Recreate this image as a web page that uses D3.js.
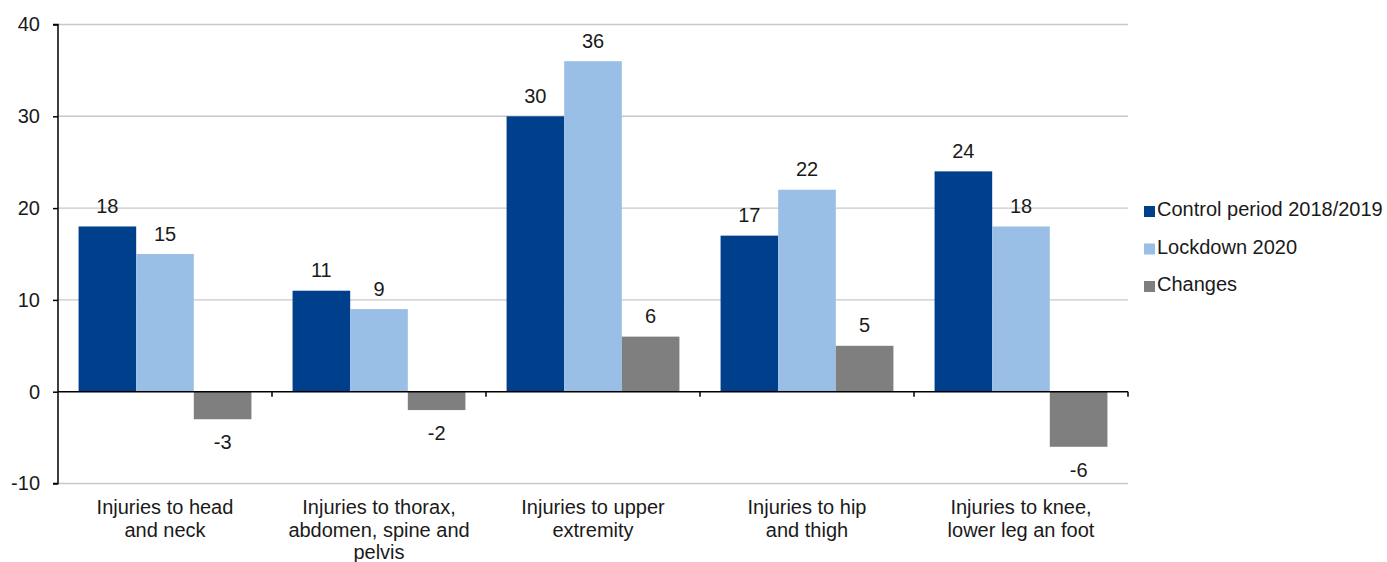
<!DOCTYPE html>
<html>
<head>
<meta charset="utf-8">
<script src="https://cdn.jsdelivr.net/npm/d3@7"></script>
<style>
  html, body { margin: 0; padding: 0; background: #fff; }
  svg text { font-family: "Liberation Sans", Arial, Helvetica, sans-serif; fill: #1a1a1a; }
</style>
</head>
<body>
<svg id="chart" width="1387" height="562"></svg>
<script>
const categories = [
  "Injuries to head\nand neck",
  "Injuries to thorax,\nabdomen, spine and\npelvis",
  "Injuries to upper\nextremity",
  "Injuries to hip\nand thigh",
  "Injuries to knee,\nlower leg an foot"
];
const seriesNames = ["Control period 2018/2019", "Lockdown 2020", "Changes"];
const control = [18, 11, 30, 17, 24];
const lockdown = [15, 9, 36, 22, 18];
const changes = [-3, -2, 6, 5, -6];
const yTicks = [-10, 0, 10, 20, 30, 40];
const colors = ["#003f8c", "#99bfe6", "#7f7f7f"];

const seriesValues = [control, lockdown, changes];
const svg = d3.select("#chart");
const fontSize = 20;

const x = d3.scaleBand().domain(categories).range([58, 1128]).padding(0);
const xs = d3.scaleBand().domain(seriesNames).range([0, x.bandwidth()]).paddingInner(0).paddingOuter(0.357);
const y = d3.scaleLinear().domain([-10, 40]).range([483.5, 24.5]);

// gridlines
svg.append("g").selectAll("line").data(yTicks.filter(d => d !== 0)).join("line")
  .attr("x1", 58).attr("x2", 1128)
  .attr("y1", d => y(d)).attr("y2", d => y(d))
  .attr("stroke", "#c8c8c8").attr("stroke-width", 1.4);

// bars
const rows = [];
categories.forEach((c, i) => seriesNames.forEach((s, j) => rows.push({c, s, j, v: seriesValues[j][i]})));

svg.append("g").selectAll("rect").data(rows).join("rect")
  .attr("x", d => x(d.c) + xs(d.s))
  .attr("width", xs.bandwidth())
  .attr("y", d => y(Math.max(0, d.v)))
  .attr("height", d => Math.abs(y(d.v) - y(0)))
  .attr("fill", d => colors[d.j]);

// value labels
svg.append("g").selectAll("text").data(rows).join("text")
  .attr("x", d => x(d.c) + xs(d.s) + xs.bandwidth() / 2)
  .attr("y", d => d.v >= 0 ? y(d.v) - 13.5 : y(d.v) + 30)
  .attr("text-anchor", "middle")
  .style("font-size", fontSize + "px")
  .text(d => String(d.v));

// zero line
svg.append("line")
  .attr("x1", 58).attr("x2", 1128)
  .attr("y1", y(0)).attr("y2", y(0))
  .attr("stroke", "#000").attr("stroke-width", 1.5);

// category ticks
svg.append("g").selectAll("line").data(categories).join("line")
  .attr("x1", d => x(d) + x.bandwidth()).attr("x2", d => x(d) + x.bandwidth())
  .attr("y1", y(0)).attr("y2", y(0) + 5)
  .attr("stroke", "#000").attr("stroke-width", 1.5);

// y axis
const yAxis = svg.append("g").attr("transform", "translate(58,0)")
  .call(d3.axisLeft(y).tickValues(yTicks).tickSize(5).tickPadding(13).tickFormat(d => String(d)));
yAxis.select(".domain").attr("stroke", "#000").attr("stroke-width", 1.5).attr("d", `M-5,${y(40)}H0V${y(-10)}H-5`);
yAxis.selectAll(".tick line").attr("stroke", "#000").attr("stroke-width", 1.5);
yAxis.selectAll(".tick text").style("font-size", fontSize + "px").attr("fill", "#1a1a1a")
  .style("font-family", '"Liberation Sans", Arial, sans-serif');

// category labels
const catG = svg.append("g");
categories.forEach(c => {
  const t = catG.append("text")
    .attr("x", x(c) + x.bandwidth() / 2)
    .attr("y", 514)
    .attr("text-anchor", "middle")
    .style("font-size", fontSize + "px");
  c.split("\n").forEach((line, k) => {
    t.append("tspan").attr("x", x(c) + x.bandwidth() / 2).attr("y", 514 + k * 22.5).text(line);
  });
});

// legend
const leg = svg.append("g");
seriesNames.forEach((s, j) => {
  const yy = 216 + j * 37.5;
  leg.append("rect").attr("x", 1144).attr("y", yy - 10).attr("width", 11).attr("height", 11).attr("fill", colors[j]);
  leg.append("text").attr("x", 1157).attr("y", yy).style("font-size", fontSize + "px").text(s);
});
</script>
</body>
</html>
